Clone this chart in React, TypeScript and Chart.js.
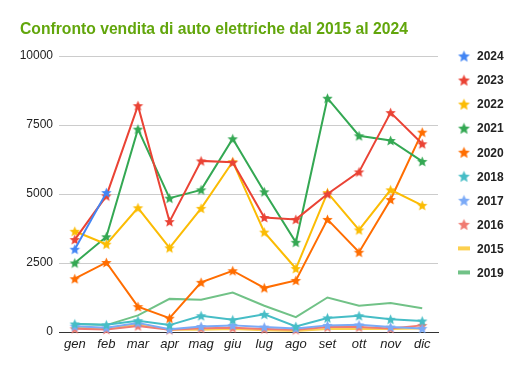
import React, { useEffect, useRef } from 'react';
import { Chart, registerables } from 'chart.js';

Chart.register(...registerables);

const FONT = "'Liberation Sans', Arial, sans-serif";
const TITLE = 'Confronto vendita di auto elettriche dal 2015 al 2024';

const months = ['gen', 'feb', 'mar', 'apr', 'mag', 'giu', 'lug', 'ago', 'set', 'ott', 'nov', 'dic'];
const yTicks = [0, 2500, 5000, 7500, 10000];

const seriesNames = ['2024', '2023', '2022', '2021', '2020', '2018', '2017', '2016', '2015', '2019'];
const seriesColors = ['#4285F4', '#EA4335', '#FBBC04', '#34A853', '#FF6D01', '#46BDC6', '#7BAAF7', '#F07B72', '#FCD04F', '#71C287'];
const seriesStars = [true, true, true, true, true, true, true, true, false, false];

const v2024 = [3000, 5050, null, null, null, null, null, null, null, null, null, null];
const v2023 = [3350, 4930, 8200, 4000, 6200, 6150, 4150, 4080, 5000, 5800, 7950, 6820];
const v2022 = [3650, 3180, 4500, 3050, 4480, 6170, 3620, 2300, 5050, 3700, 5150, 4590];
const v2021 = [2500, 3450, 7350, 4850, 5150, 7000, 5080, 3250, 8470, 7110, 6940, 6180];
const v2020 = [1930, 2520, 920, 500, 1800, 2220, 1600, 1870, 4080, 2890, 4800, 7240];
const v2018 = [290, 260, 410, 250, 590, 440, 640, 200, 510, 590, 460, 400];
const v2017 = [210, 150, 330, 100, 200, 240, 180, 130, 240, 260, 180, 130];
const v2016 = [120, 90, 220, 80, 140, 150, 110, 80, 180, 180, 130, 240];
const v2015 = [160, 120, 290, 80, 80, 110, 60, 40, 110, 110, 110, 130];
const v2019 = [300, 250, 600, 1200, 1170, 1430, 950, 540, 1250, 950, 1050, 860];

const seriesValues = [v2024, v2023, v2022, v2021, v2020, v2018, v2017, v2016, v2015, v2019];

function makeStar(color: string, r: number): HTMLCanvasElement {
  const size = Math.ceil(r * 2) + 2;
  const c = document.createElement('canvas');
  c.width = size;
  c.height = size;
  const ctx = c.getContext('2d')!;
  ctx.translate(size / 2, size / 2 + r * 0.1);
  ctx.beginPath();
  for (let i = 0; i < 10; i++) {
    const rad = i % 2 === 0 ? r : r * 0.45;
    const a = -Math.PI / 2 + (i * Math.PI) / 5;
    ctx.lineTo(rad * Math.cos(a), rad * Math.sin(a));
  }
  ctx.closePath();
  ctx.fillStyle = color;
  ctx.fill();
  return c;
}

const titlePlugin = {
  id: 'customTitle',
  afterDraw(chart: any) {
    const ctx = chart.ctx;
    ctx.save();
    ctx.font = `bold 15.7px ${FONT}`;
    ctx.fillStyle = '#62A60C';
    ctx.textAlign = 'left';
    ctx.textBaseline = 'alphabetic';
    ctx.fillText(TITLE, 20, 34);
    ctx.restore();
  },
};

const legendPlugin = {
  id: 'customLegend',
  afterDraw(chart: any) {
    const ctx = chart.ctx;
    ctx.save();
    ctx.font = `bold 12px ${FONT}`;
    ctx.textAlign = 'left';
    ctx.textBaseline = 'middle';
    seriesNames.forEach((name, i) => {
      const y = 56 + i * 24.05;
      const color = seriesColors[i];
      if (seriesStars[i]) {
        const img = makeStar(color, 6.2);
        ctx.drawImage(img, 464 - img.width / 2, y - img.height / 2);
      } else {
        ctx.fillStyle = color;
        ctx.fillRect(458, y - 2, 12, 4);
      }
      ctx.fillStyle = '#222222';
      ctx.fillText(name, 477, y + 1);
    });
    ctx.restore();
  },
};

export default function App() {
  const ref = useRef<HTMLCanvasElement | null>(null);

  useEffect(() => {
    if (!ref.current) return;
    const datasets = seriesNames.map((name, i) => ({
      label: name,
      data: seriesValues[i],
      borderColor: seriesColors[i],
      backgroundColor: seriesColors[i],
      borderWidth: 2,
      tension: 0,
      pointStyle: seriesStars[i] ? makeStar(seriesColors[i], 5.5) : 'circle',
      pointRadius: seriesStars[i] ? 5 : 0,
      pointHoverRadius: seriesStars[i] ? 5 : 0,
      clip: false as any,
      spanGaps: false,
    }));
    const chart = new Chart(ref.current, {
      type: 'line',
      data: { labels: months, datasets },
      options: {
        animation: false,
        responsive: false,
        devicePixelRatio: 1,
        layout: { padding: { top: 56, right: 87, left: 0, bottom: 0 } },
        plugins: {
          legend: { display: false },
          title: { display: false },
          tooltip: { enabled: false },
        },
        scales: {
          x: {
            offset: true,
            grid: { display: false, drawTicks: false, offset: true },
            border: { display: true, color: '#333333', width: 1 },
            ticks: {
              font: { family: FONT, size: 13, style: 'italic' },
              color: '#222222',
              padding: 5,
              maxRotation: 0,
              autoSkip: false,
            },
            afterFit: (s: any) => {
              s.height = 39;
            },
          },
          y: {
            min: 0,
            max: 10000,
            afterBuildTicks: (s: any) => {
              s.ticks = yTicks.map((v) => ({ value: v }));
            },
            ticks: {
              font: { family: FONT, size: 12 },
              color: '#222222',
              padding: 6,
              callback: (v: any) => String(v),
            },
            grid: { color: '#cccccc', drawTicks: false },
            border: { display: false },
            afterFit: (s: any) => {
              s.width = 59;
            },
          },
        },
      },
      plugins: [titlePlugin, legendPlugin],
    });
    return () => chart.destroy();
  }, []);

  return (
    <div style={{ position: 'absolute', left: 0, top: 0, width: 525, height: 371, background: '#ffffff' }}>
      <canvas ref={ref} width={525} height={371} style={{ width: 525, height: 371 }} />
    </div>
  );
}
